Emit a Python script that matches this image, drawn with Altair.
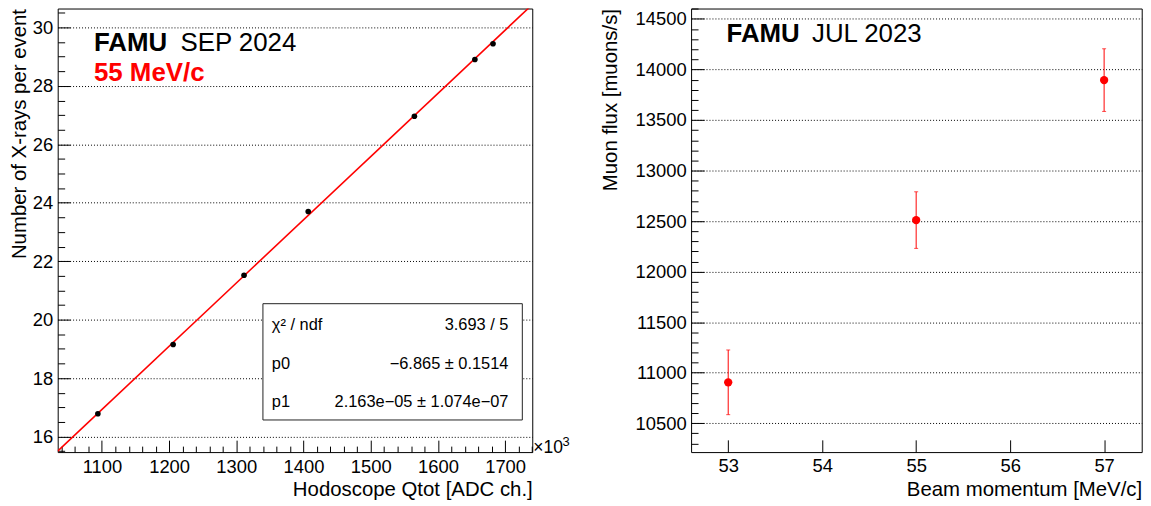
import altair as alt
import pandas as pd

FONT = "Liberation Sans"

# ---------------- left panel data (FAMU SEP 2024) ----------------
qtot = [1094e3, 1206e3, 1311.5e3, 1407e3, 1565e3, 1655e3, 1682e3]   # ADC ch.
nxray = [16.78, 19.15, 21.52, 23.70, 26.96, 28.90, 29.44]
p0 = -6.865
p1 = 2.163e-05
left_x_domain = [1034.2e3, 1740.4e3]
left_y_domain = [15.4695, 30.646]
left_x_major = [1100e3, 1200e3, 1300e3, 1400e3, 1500e3, 1600e3, 1700e3]
left_x_ticks = [1040e3 + 20e3 * i for i in range(36)]
left_y_major = [16, 18, 20, 22, 24, 26, 28, 30]
left_y_ticks = [15.5 + 0.5 * i for i in range(31)]
stats_left = ["χ² / ndf", "p0", "p1"]
stats_right = ["3.693 / 5", "−6.865 ± 0.1514", "2.163e−05 ± 1.074e−07"]

# ---------------- right panel data (FAMU JUL 2023) ----------------
momentum = [53, 55, 57]
flux = [10905, 12510, 13895]
flux_err = [320, 280, 310]
right_x_domain = [52.605, 57.4]
right_y_domain = [10214.8, 14603.2]
right_x_major = [53, 54, 55, 56, 57]
right_y_major = [10500, 11000, 11500, 12000, 12500, 13000, 13500, 14000, 14500]
right_y_ticks = [10300 + 100 * i for i in range(44)]

W1, W2, H = 477.5, 453.4, 446.3

df_left = pd.DataFrame({"qtot": qtot, "n": nxray})
df_fit = pd.DataFrame({"qtot": left_x_domain,
                       "n": [p0 + p1 * v for v in left_x_domain]})
df_right = pd.DataFrame({"p": momentum, "flux": flux,
                         "lo": [f - e for f, e in zip(flux, flux_err)],
                         "hi": [f + e for f, e in zip(flux, flux_err)]})
one = pd.DataFrame({"k": [0]})

lab = dict(labelFont=FONT, labelFontSize=18.5, labelColor="black")
tit = dict(titleFont=FONT, titleFontSize=20.5, titleFontWeight="normal",
           titleColor="black", titleBaseline="alphabetic", titleAlign="right")


def label_axis_x(values, title, width, expr=None, pad=6):
    kw = dict(orient="bottom", values=values, ticks=False, tickSize=0, domain=False,
              grid=False, labelPadding=pad, title=title, titleX=width, titleY=43.5,
              **lab, **tit)
    if expr:
        kw["labelExpr"] = expr
    return alt.Axis(**kw)


def label_axis_y(values, title, tx):
    return alt.Axis(orient="left", values=values, ticks=False, tickSize=0, domain=False,
                    grid=True, gridColor="black", gridDash=[1, 2], gridWidth=1,
                    format="d", labelPadding=5, title=title, titleAngle=-90,
                    titleX=tx, titleY=0, **lab, **tit)


def tick_axis_x(values, test, big, small):
    return alt.Axis(orient="top", offset=-H, values=values, labels=False, domain=False,
                    grid=False, tickColor="black", tickWidth=1,
                    tickSize={"condition": {"test": test, "value": big}, "value": small},
                    title=None)


def tick_axis_y(values, test, width, big, small):
    return alt.Axis(orient="right", offset=-width, values=values, labels=False,
                    domain=False, grid=False, tickColor="black", tickWidth=1,
                    tickSize={"condition": {"test": test, "value": big}, "value": small},
                    title=None)


def text(s, x, y, size, color="black", weight="normal", align="left"):
    return alt.Chart(one).mark_text(text=s, font=FONT, fontSize=size, color=color,
                                    fontWeight=weight, align=align,
                                    baseline="alphabetic").encode(
        x=alt.value(x), y=alt.value(y))


# ---------------- left panel ----------------
xs_l = alt.Scale(domain=left_x_domain, nice=False, zero=False)
ys_l = alt.Scale(domain=left_y_domain, nice=False, zero=False)

fit = alt.Chart(df_fit).mark_line(color="#ff0000", strokeWidth=1.6, clip=True).encode(
    x=alt.X("qtot:Q", scale=xs_l,
            axis=tick_axis_x(left_x_ticks, "datum.value % 100000 === 0", 12, 6)),
    y=alt.Y("n:Q", scale=ys_l,
            axis=tick_axis_y(left_y_ticks, "datum.value % 2 === 0", W1, 12.5, 7)),
)
pts = alt.Chart(df_left).mark_circle(color="black", size=32, opacity=1).encode(
    x=alt.X("qtot:Q", scale=xs_l,
            axis=label_axis_x(left_x_major, "Hodoscope Qtot [ADC ch.]", W1,
                              expr="format(datum.value/1000,'d')")),
    y=alt.Y("n:Q", scale=ys_l, axis=label_axis_y(left_y_major,
                                               "Number of X-rays per event", -32.5)),
)
box = alt.Chart(one).mark_rect(fill="white", stroke="#222", strokeWidth=1).encode(
    x=alt.value(206.5), x2=alt.value(467.5), y=alt.value(297), y2=alt.value(414))

left_layers = [fit, pts, box]
for i, (a, b) in enumerate(zip(stats_left, stats_right)):
    yb = [323, 362.5, 401][i]
    left_layers.append(text(a, 215.5, yb, 16.5))
    left_layers.append(text(b, 453.5, yb, 16.5, align="right"))
left_layers += [
    text("FAMU", 36.5, 43, 26, weight="bold"),
    text("SEP 2024", 123.5, 43, 26),
    text("55 MeV/c", 36.5, 73, 26, color="#ff0000", weight="bold"),
    text("×10", 478.5, 447.3, 17.6),
    text("3", 508, 439.7, 13),
]
left = alt.layer(*left_layers).resolve_axis(x="independent", y="independent").properties(
    width=W1, height=H)

# ---------------- right panel ----------------
xs_r = alt.Scale(domain=right_x_domain, nice=False, zero=False)
ys_r = alt.Scale(domain=right_y_domain, nice=False, zero=False)

bars = alt.Chart(df_right).mark_rule(color="#ff0000", strokeWidth=1).encode(
    x=alt.X("p:Q", scale=xs_r, axis=tick_axis_x(right_x_major, "true", 12.3, 12.3)),
    y=alt.Y("lo:Q", scale=ys_r,
            axis=tick_axis_y(right_y_ticks, "datum.value % 500 === 0", W2, 13, 7)),
    y2="hi:Q",
)
cap_lo = alt.Chart(df_right).mark_tick(color="#ff0000", orient="horizontal", size=4,
                                       thickness=1).encode(
    x=alt.X("p:Q", scale=xs_r, axis=None), y=alt.Y("lo:Q", scale=ys_r, axis=None))
cap_hi = alt.Chart(df_right).mark_tick(color="#ff0000", orient="horizontal", size=4,
                                       thickness=1).encode(
    x=alt.X("p:Q", scale=xs_r, axis=None), y=alt.Y("hi:Q", scale=ys_r, axis=None))
rpts = alt.Chart(df_right).mark_circle(color="#ff0000", size=70, opacity=1).encode(
    x=alt.X("p:Q", scale=xs_r,
            axis=label_axis_x(right_x_major, "Beam momentum [MeV/c]", W2, pad=5)),
    y=alt.Y("flux:Q", scale=ys_r, axis=label_axis_y(right_y_major,
                                                   "Muon flux [muons/s]", -74.6)),
)
right = alt.layer(
    bars, cap_lo, cap_hi, rpts,
    text("FAMU", 35.7, 33.3, 26, weight="bold"),
    text("JUL 2023", 121.7, 33.3, 26),
).resolve_axis(x="independent", y="independent").properties(width=W2, height=H)

chart = alt.hconcat(left, right, spacing=159.3, bounds="flush").properties(
    padding={"top": -2, "left": 0, "right": 0, "bottom": 0}, background="white"
).configure_view(stroke="black", strokeWidth=1)

chart.save("out.html", embed_options={"renderer": "svg", "actions": False})
